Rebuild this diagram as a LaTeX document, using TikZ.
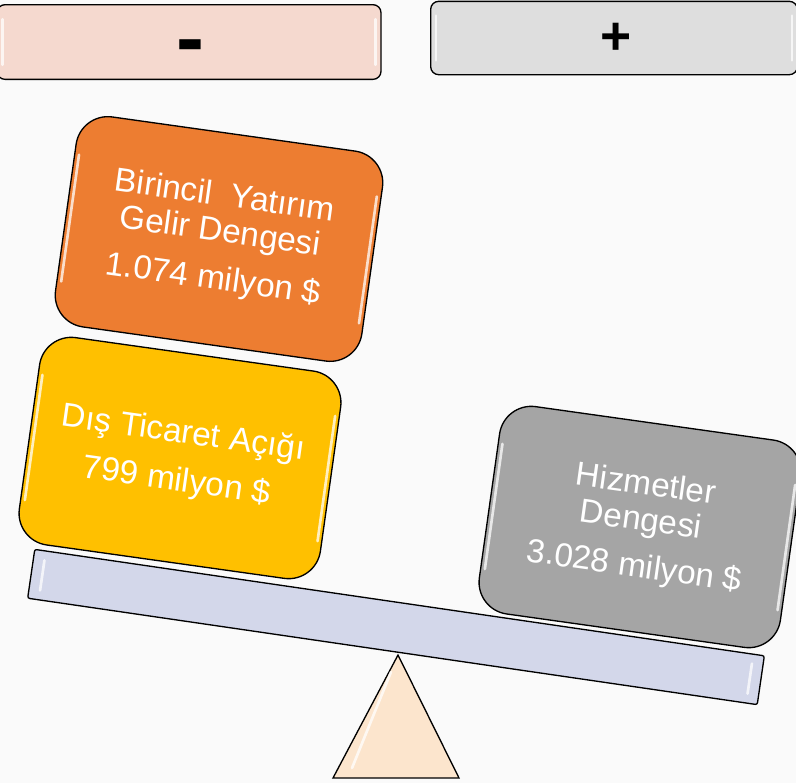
\documentclass[tikz,border=0pt]{standalone}
\usepackage{fontspec}
\setmainfont{Liberation Sans}
\usetikzlibrary{calc}

\definecolor{bgcol}{HTML}{FAFAFA}
\definecolor{negfill}{HTML}{F5D9CF}
\definecolor{posfill}{HTML}{DEDEDE}
\definecolor{incomefill}{HTML}{ED7D31}
\definecolor{tradefill}{HTML}{FFC000}
\definecolor{servicefill}{HTML}{A5A5A5}
\definecolor{beamfill}{HTML}{D3D7EA}
\definecolor{pivotfill}{HTML}{FCE5CD}

\tikzset{
  tab/.style={draw=black, line width=1pt, rounded corners=6pt},
  weight/.style={draw=black, line width=1pt, rounded corners=24pt, rotate=-8,
    text=white, align=center, minimum width=228pt, minimum height=157pt,
    font=\fontsize{25}{27}\selectfont},
  sign/.style={anchor=base, font=\bfseries},
  glossline/.style={white, line width=2pt, opacity=.75, line cap=round},
}

% white shine just inside the short sides of a box
\newcommand{\gloss}[1]{%
  \draw[glossline] ($(#1.north west)!.2!(#1.south west) + .016*(#1.east) - .016*(#1.west)$)
    -- ($(#1.north west)!.8!(#1.south west) + .016*(#1.east) - .016*(#1.west)$);
  \draw[glossline] ($(#1.north east)!.2!(#1.south east) - .016*(#1.east) + .016*(#1.west)$)
    -- ($(#1.north east)!.8!(#1.south east) - .016*(#1.east) + .016*(#1.west)$);
}

\begin{document}
\begin{tikzpicture}[x=0.75pt, y=-0.75pt]
  \useasboundingbox (0,0) rectangle (796,783);
  \clip (0,0) rectangle (796,783);
  \fill[bgcol] (0,0) rectangle (796,783);

  % Top: the two sides of the balance
  \node[tab, fill=negfill, minimum width=288pt, minimum height=56pt] (neg) at (189,42) {};
  \node[tab, fill=posfill, minimum width=275pt, minimum height=55pt] (pos) at (614,38) {};
  \gloss{neg}
  \gloss{pos}
  \node[sign, font=\bfseries\fontsize{63}{63}\selectfont] (minus) at (190,66) {-};
  \node[sign, font=\bfseries\fontsize{40}{40}\selectfont] (plus) at (616,54) {+};

  % Pivot under the beam
  \draw[line width=1pt, fill=pivotfill] (398,655) -- (459,778) -- (333,778) -- cycle;
  \draw[glossline] (391,672) -- (352,768);

  % Tilted beam
  \node[draw=black, line width=1pt, fill=beamfill, rounded corners=1.5pt, rotate=-8.3,
    minimum width=553pt, minimum height=37pt] (beam) at (396,627) {};
  \gloss{beam}

  % Left pan: two weights stacked
  \node[weight, fill=incomefill, minimum width=232pt, minimum height=159pt] (income) at (219,239)
    {Birincil\ \ Yatırım\\Gelir Dengesi\\[9pt]1.074 milyon \$};
  \gloss{income}
  \node[weight, fill=tradefill] (trade) at (180,458)
    {Dış Ticaret Açığı\\[9pt]799 milyon \$};
  \gloss{trade}

  % Right pan
  \node[weight, fill=servicefill] (service) at (640,527)
    {Hizmetler\\Dengesi\\[8pt]3.028 milyon \$};
  \gloss{service}
\end{tikzpicture}
\end{document}
